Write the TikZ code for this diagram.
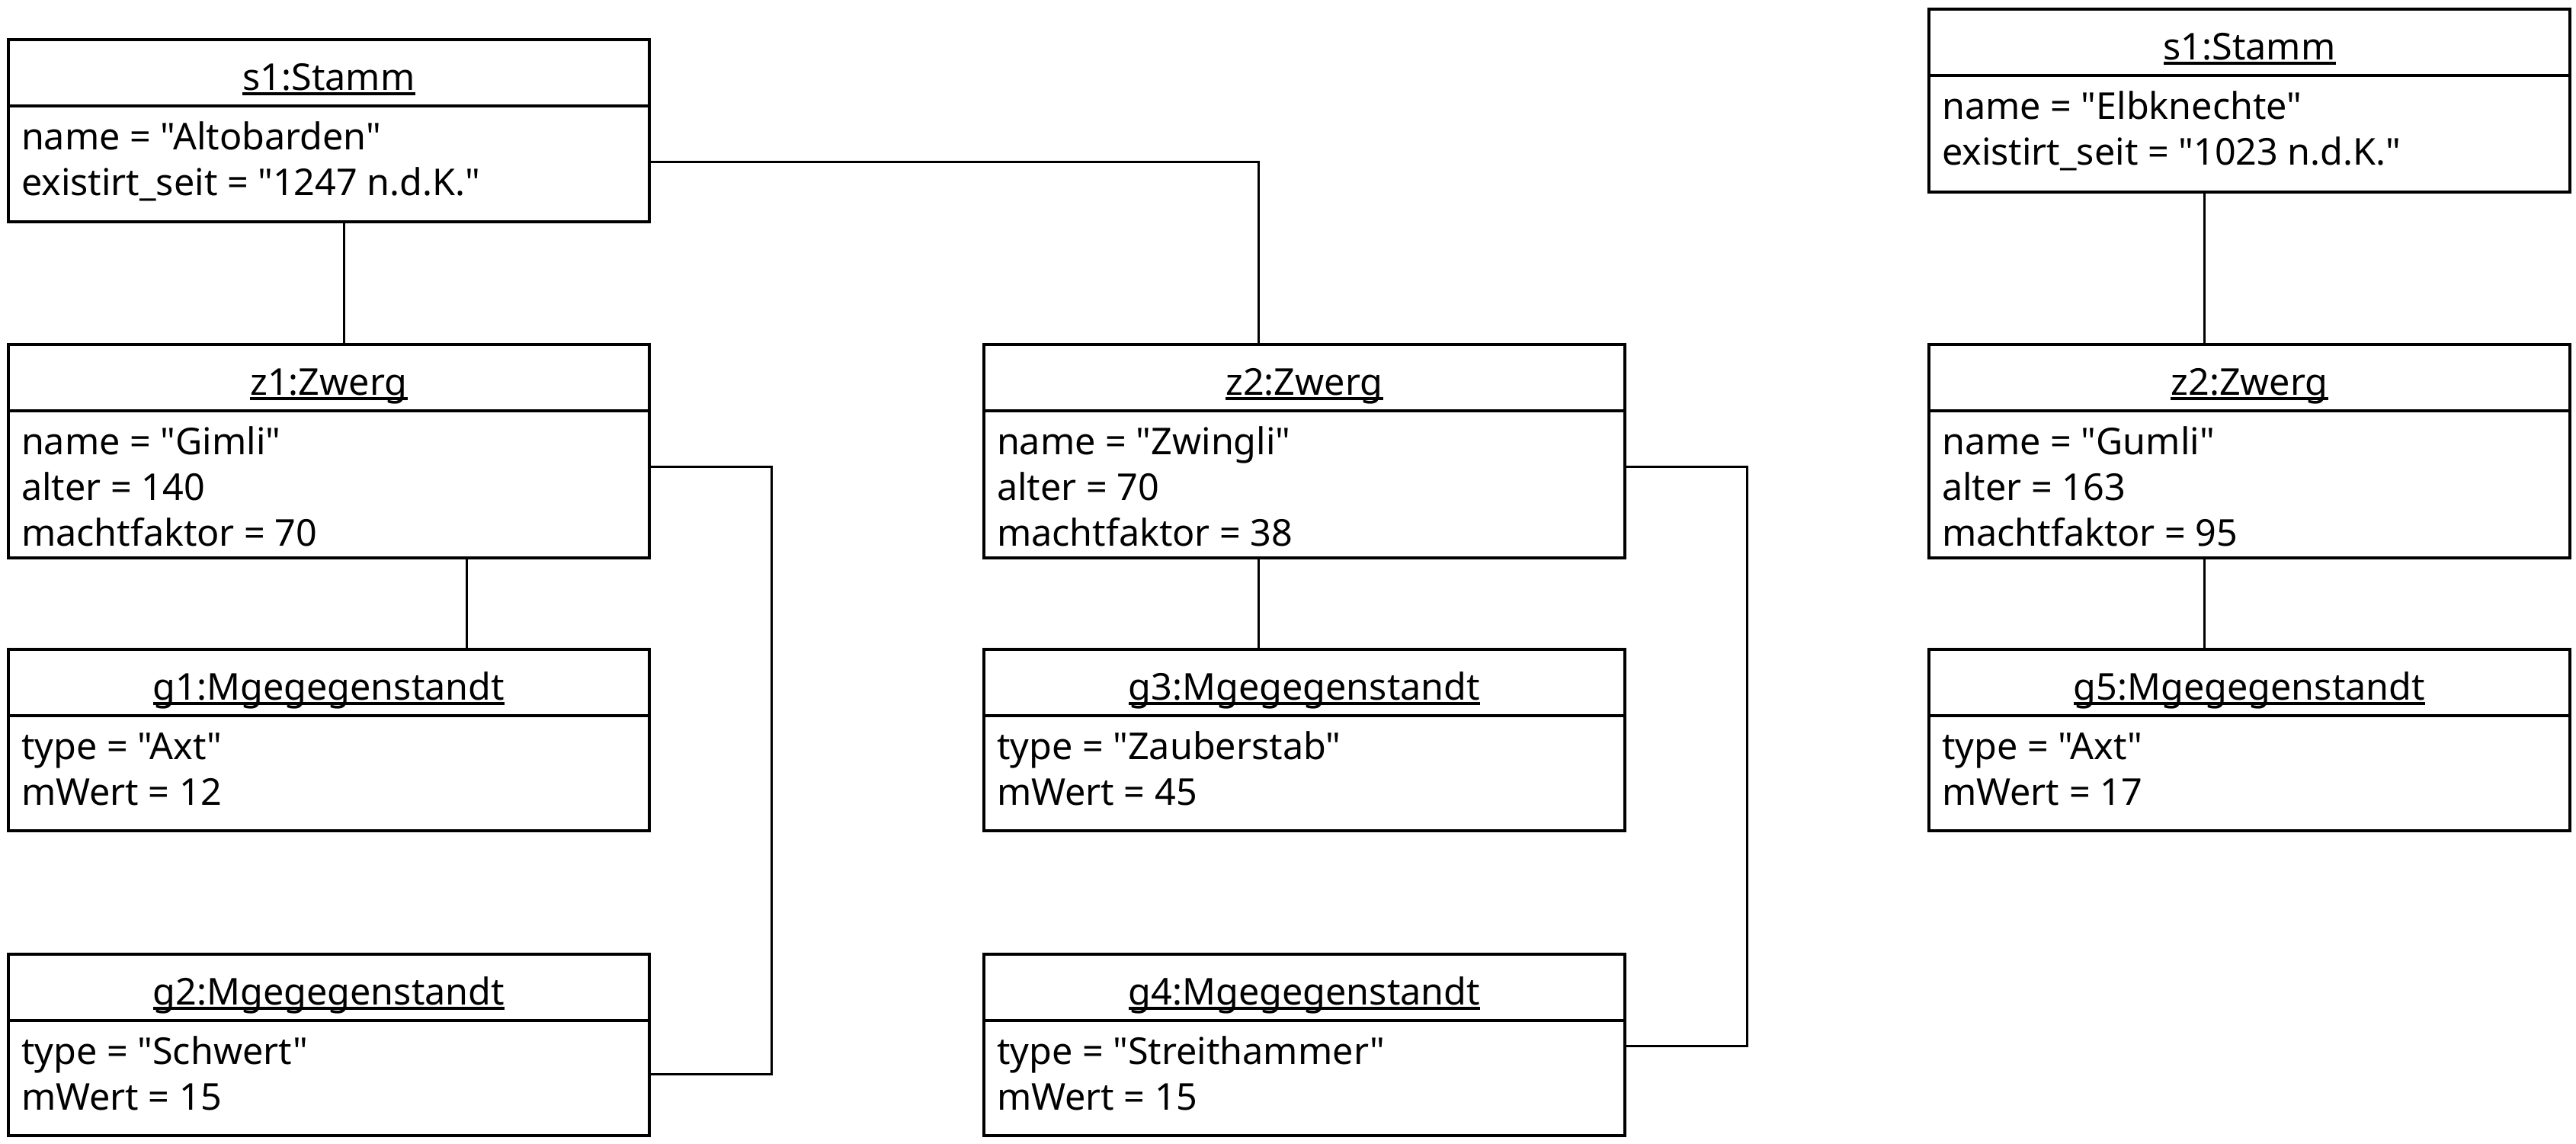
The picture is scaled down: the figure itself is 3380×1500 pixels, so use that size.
\documentclass[tikz,border=0pt]{standalone}
\usepackage{fontspec}
\setmainfont{Noto Sans}[Ligatures=TeXOff]
\usetikzlibrary{calc}
\newcommand\objbox[6]{%
  \node[obj, minimum height=#4] (#1) at (#2,#3) {};
  \draw[sepline] ($(#1.north west)+(0,87)$) -- ($(#1.north east)+(-2,87)$);
  \node[ttl] (#1t) at ($(#1.north)+(0,66)$) {#5};
  \draw[uline] ($(#1t.base west)+(0,5)$) -- ($(#1t.base east)+(0,5)$);
  \foreach \t [count=\i] in {#6} {\node[attr] (#1r\i) at ($(#1.north west)+(17,{87+57+(\i-1)*60})$) {\t};}%
}
\begin{document}
\begin{tikzpicture}[x=0.5pt,y=-0.5pt,
  obj/.style={draw, line width=2pt, rectangle, minimum width=420.5pt, inner sep=0pt, outer sep=0pt, anchor=north west},
  sepline/.style={line width=2pt},
  uline/.style={line width=1.8pt},
  conn/.style={line width=1.5pt},
  ttl/.style={inner sep=0pt, outer sep=0pt, anchor=base, font=\fontsize{24.25pt}{30pt}\selectfont},
  attr/.style={inner sep=0pt, outer sep=0pt, anchor=base west, font=\fontsize{24.25pt}{30pt}\selectfont}]
\useasboundingbox (0,0) rectangle (3380,1500);

\objbox{s1L}{11}{52}{119.5pt}{s1:Stamm}{name = "Altobarden", existirt\_seit = "1247 n.d.K."}
\objbox{z1}{11}{452}{140pt}{z1:Zwerg}{name = "Gimli", alter = 140, machtfaktor = 70}
\objbox{g1}{11}{852}{119pt}{g1:Mgegegenstandt}{type = "Axt", mWert = 12}
\objbox{g2}{11}{1252}{119pt}{g2:Mgegegenstandt}{type = "Schwert", mWert = 15}

\objbox{z2M}{1291}{452}{140pt}{z2:Zwerg}{name = "Zwingli", alter = 70, machtfaktor = 38}
\objbox{g3}{1291}{852}{119pt}{g3:Mgegegenstandt}{type = "Zauberstab", mWert = 45}
\objbox{g4}{1291}{1252}{119pt}{g4:Mgegegenstandt}{type = "Streithammer", mWert = 15}

\objbox{s1R}{2531}{12}{120pt}{s1:Stamm}{name = "Elbknechte", existirt\_seit = "1023 n.d.K."}
\objbox{z2R}{2531}{452}{140pt}{z2:Zwerg}{name = "Gumli", alter = 163, machtfaktor = 95}
\objbox{g5}{2531}{852}{119pt}{g5:Mgegegenstandt}{type = "Axt", mWert = 17}

\coordinate (a1) at (451,0);
\coordinate (a2) at (1651,212);
\coordinate (a3) at (612,0);
\coordinate (a4) at (1012,612);
\coordinate (a5) at (1012,1409);
\coordinate (a6) at (2292,612);
\coordinate (a7) at (2292,1372);
\coordinate (a8) at (2892,0);

\draw[conn] (s1L.south -| a1) -- (z1.north -| a1);
\draw[conn] (s1L.east |- a2) -| (z2M.north -| a2);
\draw[conn] (z1.south -| a3) -- (g1.north -| a3);
\draw[conn] (z1.east |- a4) -| (a5) -- (g2.east |- a5);
\draw[conn] (z2M.south -| a2) -- (g3.north -| a2);
\draw[conn] (z2M.east |- a6) -| (a7) -- (g4.east |- a7);
\draw[conn] (s1R.south -| a8) -- (z2R.north -| a8);
\draw[conn] (z2R.south -| a8) -- (g5.north -| a8);
\end{tikzpicture}
\end{document}
